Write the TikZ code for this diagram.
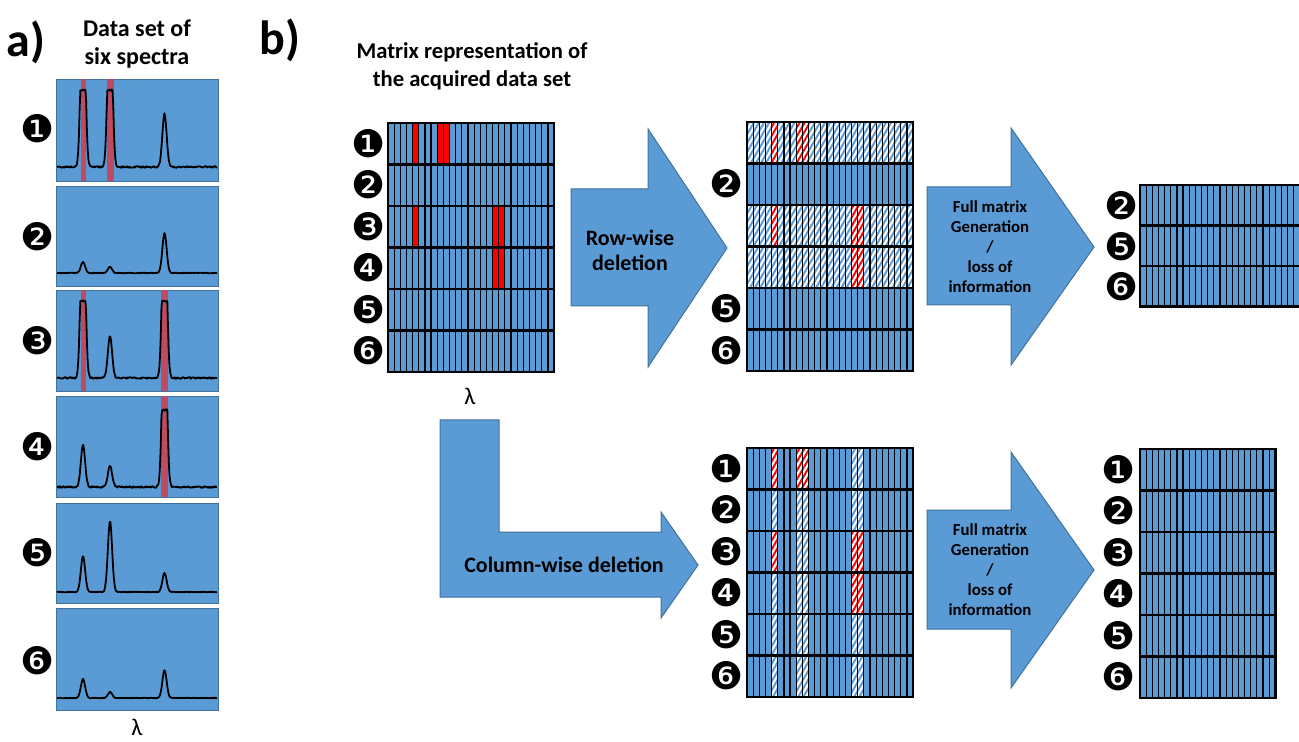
\documentclass[tikz,border=0pt]{standalone}
\usepackage{fontspec}
\setmainfont{Carlito}
\newfontfamily\circfont{DejaVu Sans}
\usetikzlibrary{patterns.meta}
\definecolor{specblue}{RGB}{91,155,213}
\definecolor{arrowedge}{RGB}{65,113,156}
\definecolor{peakred}{RGB}{190,75,98}
\newcommand{\colw}{6.15}
\newcommand{\matgrid}[3]{%
  \foreach \c in {1,...,#2}{\draw[colline] (\c*\colw,0) -- (\c*\colw,#1*#3);}%
  \foreach \r in {1,...,#1}{\draw[rowline] (0,\r*#3) -- (#2*\colw,\r*#3);}%
  \draw[rowline] (0,0) rectangle (#2*\colw,#1*#3);}
\newcommand{\spectrum}[5]{%
  \draw[specline] plot[domain=57:217, samples=220]
    (\x, {#1 - min(77, #2*exp(-((\x-83)/3)^2) + #3*exp(-((\x-110)/3)^2) + #4*exp(-((\x-164.5)/3)^2)) + #5*rand});}
\tikzset{
  panel/.style={fill=specblue, draw=arrowedge, line width=0.4pt},
  peakbar/.style={fill=peakred},
  specline/.style={line width=0.9pt, line join=round},
  colline/.style={line width=0.6pt},
  rowline/.style={line width=1.3pt},
  redcell/.style={fill=red},
  hatchcell/.style={fill=white, postaction={pattern={Lines[angle=60,distance=2.2pt,line width=1pt]}, pattern color=specblue}},
  redhatch/.style={fill=white, postaction={pattern={Lines[angle=60,distance=2.2pt,line width=1pt]}, pattern color=red}},
  bigarrow/.style={fill=specblue, draw=arrowedge, line width=0.5pt},
  num/.style={font=\circfont\fontsize{19}{19}\selectfont, inner sep=0pt},
  title/.style={font=\bfseries\fontsize{12}{14}\selectfont, align=center},
  mattitle/.style={font=\bfseries\fontsize{11.3}{14}\selectfont, align=center},
  panellabel/.style={font=\bfseries\fontsize{24}{24}\selectfont},
  arrowtext/.style={font=\bfseries\fontsize{11}{12.5}\selectfont, align=center},
  fulltext/.style={font=\bfseries\fontsize{8.4}{10}\selectfont, align=center},
  lam/.style={font=\fontsize{12}{12}\selectfont}
}
\begin{document}
\begin{tikzpicture}[x=0.5pt,y=-0.5pt]
  \useasboundingbox (0,0) rectangle (1299,742);
  \pgfmathsetseed{11}
  % a) six spectra
  \node[panellabel] (alabel) at (26,42) {a)};
  \node[title] (atitle) at (137,44) {Data set of\\six spectra};
  \path[panel] (56,79) rectangle (218,181);
  \path[panel] (56,186) rectangle (218,286);
  \path[panel] (56,290) rectangle (218,391);
  \path[panel] (56,396) rectangle (218,497);
  \path[panel] (56,503) rectangle (218,603);
  \path[panel] (56,608) rectangle (218,710);
  \fill[peakbar] (80.5,79) rectangle (85.5,181);
  \fill[peakbar] (106.5,79) rectangle (113.5,181);
  \fill[peakbar] (80.5,290) rectangle (85.5,391);
  \fill[peakbar] (161,290) rectangle (168,391);
  \fill[peakbar] (161,396) rectangle (168,497);
  \spectrum{167}{200}{200}{54}{0.8}
  \spectrum{273}{11}{6}{40}{0.3}
  \spectrum{378}{200}{42}{200}{0.8}
  \spectrum{487}{42}{21}{200}{0.8}
  \spectrum{592}{36}{71}{19}{0.3}
  \spectrum{698}{19}{6}{28}{0.3}
  \node[num] (s1) at (38,129) {❶};
  \node[num] (s2) at (38,237) {❷};
  \node[num] (s3) at (38,341) {❸};
  \node[num] (s4) at (38,447) {❹};
  \node[num] (s5) at (38,553) {❺};
  \node[num] (s6) at (38,661) {❻};
  \node[lam] (alam) at (137,727) {λ};
  % b) matrices
  \node[panellabel] (blabel) at (280,40) {b)};
  \node[mattitle] (btitle) at (472,66) {Matrix representation of\\the acquired data set};
  % acquired matrix
  \begin{scope}[shift={(388,123)}]
    \fill[specblue] (0,0) rectangle (27*\colw,6*41.5);
    \foreach \r/\c in {0/4,0/8,0/9,2/4,2/17,2/18,3/17,3/18}
      \fill[redcell] (\c*\colw,\r*41.5) rectangle ++(\colw,41.5);
    \matgrid{6}{27}{41.5}
  \end{scope}
  \node[num] (a1) at (369,144) {❶};
  \node[num] (a2) at (369,185) {❷};
  \node[num] (a3) at (369,227) {❸};
  \node[num] (a4) at (369,268) {❹};
  \node[num] (a5) at (369,310) {❺};
  \node[num] (a6) at (369,351) {❻};
  \node[lam] (blam) at (470,396) {λ};
  % row-wise deletion
  \path[bigarrow] (571,189) -- (648,189) -- (648,129) -- (727,248) -- (648,367) -- (648,306) -- (571,306) -- cycle;
  \node[arrowtext] (rowdel) at (630,250) {Row-wise\\deletion};
  \begin{scope}[shift={(747,122)}]
    \fill[specblue] (0,0) rectangle (27*\colw,6*41.5);
    \foreach \r in {0,2,3}
      \path[hatchcell] (0,\r*41.5) rectangle ++(27*\colw,41.5);
    \foreach \r/\c in {0/4,0/8,0/9,2/4,2/17,2/18,3/17,3/18}
      \path[redhatch] (\c*\colw,\r*41.5) rectangle ++(\colw,41.5);
    \matgrid{6}{27}{41.5}
  \end{scope}
  \node[num] (r2) at (727,184) {❷};
  \node[num] (r5) at (727,309) {❺};
  \node[num] (r6) at (727,351) {❻};
  \path[bigarrow] (927,187) -- (1011,187) -- (1011,128) -- (1094,247) -- (1011,365) -- (1011,305) -- (927,305) -- cycle;
  \node[fulltext] (rowfull) at (990,247) {Full matrix\\Generation\\/\\loss of\\information};
  \begin{scope}
    \clip (1100,0) rectangle (1299,742);
    \begin{scope}[shift={(1140,185)}]
      \fill[specblue] (0,0) rectangle (27*\colw,3*40.5);
      \matgrid{3}{27}{40.5}
    \end{scope}
  \end{scope}
  \node[num] (f2) at (1122,206) {❷};
  \node[num] (f5) at (1122,247) {❺};
  \node[num] (f6) at (1122,287) {❻};
  % column-wise deletion
  \path[bigarrow] (440,420) -- (499,420) -- (499,532) -- (661,532) -- (661,512) -- (698,565) -- (661,618) -- (661,597) -- (440,597) -- cycle;
  \node[arrowtext] (coldel) at (564,565) {Column-wise deletion};
  \begin{scope}[shift={(747,448)}]
    \fill[specblue] (0,0) rectangle (27*\colw,6*41.5);
    \foreach \c in {4,8,9,17,18}
      \path[hatchcell] (\c*\colw,0) rectangle ++(\colw,6*41.5);
    \foreach \r/\c in {0/4,0/8,0/9,2/4,2/17,2/18,3/17,3/18}
      \path[redhatch] (\c*\colw,\r*41.5) rectangle ++(\colw,41.5);
    \matgrid{6}{27}{41.5}
  \end{scope}
  \node[num] (c1) at (727,469) {❶};
  \node[num] (c2) at (727,510) {❷};
  \node[num] (c3) at (727,552) {❸};
  \node[num] (c4) at (727,593) {❹};
  \node[num] (c5) at (727,635) {❺};
  \node[num] (c6) at (727,676) {❻};
  \path[bigarrow] (927,510) -- (1011,510) -- (1011,452) -- (1094,570) -- (1011,688) -- (1011,629) -- (927,629) -- cycle;
  \node[fulltext] (colfull) at (990,570) {Full matrix\\Generation\\/\\loss of\\information};
  \begin{scope}[shift={(1140,449)}]
    \fill[specblue] (0,0) rectangle (22*\colw,6*41.5);
    \matgrid{6}{22}{41.5}
  \end{scope}
  \node[num] (g1) at (1119,470) {❶};
  \node[num] (g2) at (1119,511) {❷};
  \node[num] (g3) at (1119,553) {❸};
  \node[num] (g4) at (1119,594) {❹};
  \node[num] (g5) at (1119,636) {❺};
  \node[num] (g6) at (1119,677) {❻};
\end{tikzpicture}
\end{document}
